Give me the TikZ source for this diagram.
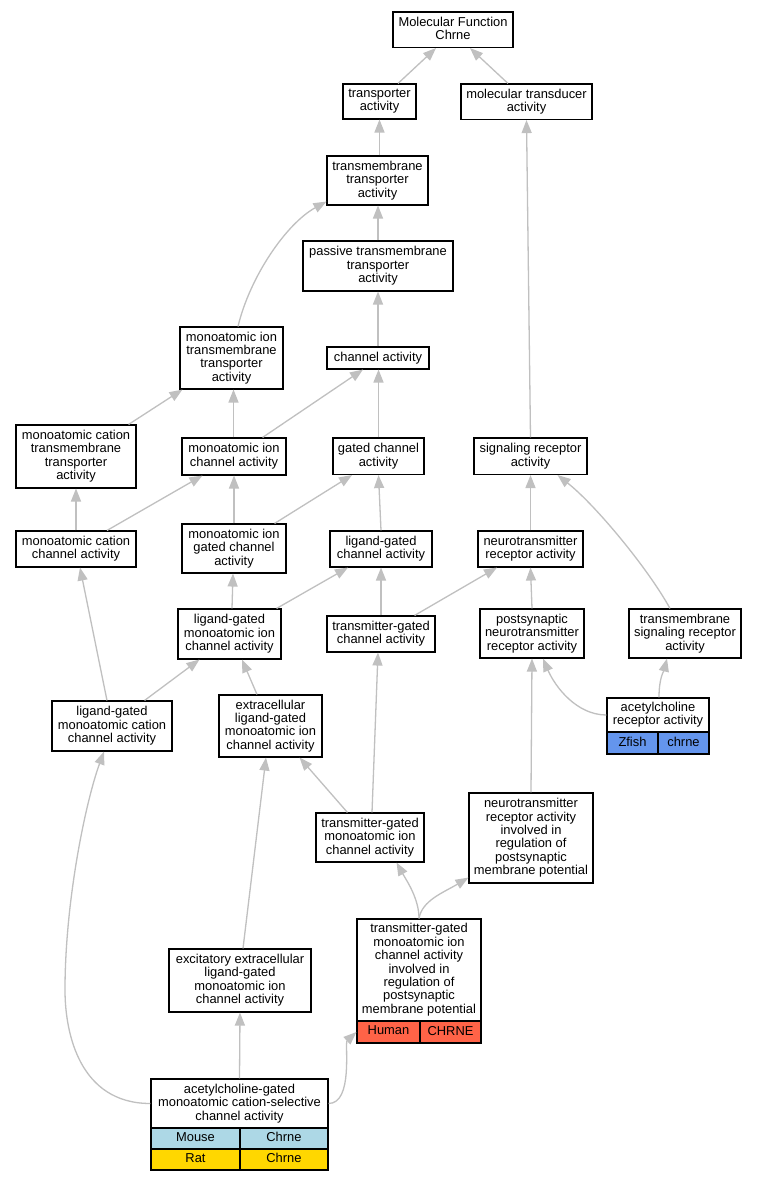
\documentclass[tikz,border=0pt]{standalone}
\usepackage{fontspec}
\setmainfont{Liberation Sans}
\usetikzlibrary{arrows.meta}
\definecolor{edgegray}{RGB}{192,192,192}
\definecolor{zfish}{RGB}{100,149,237}
\definecolor{human}{RGB}{255,99,71}
\definecolor{mouse}{RGB}{173,216,230}
\definecolor{rat}{RGB}{255,215,0}
\newcommand{\mystrut}{\rule[-3pt]{0pt}{10.2pt}}
\newcommand{\fs}{\fontsize{12.9}{13.4}\selectfont}
\begin{document}
\begin{tikzpicture}[x=1pt,y=-1pt,
  box/.style={draw=black, line width=1.1pt, fill=white, inner sep=0pt, align=center, font=\fs,
    execute at begin node=\mystrut, execute at end node=\mystrut},
  cell/.style={box, fill=#1},
  edge/.style={draw=edgegray, line width=1.3pt, -{Triangle[length=13pt,width=10pt]}}]
\fill[white] (0,0) rectangle (757,1181);
\useasboundingbox (0,0) rectangle (757,1181);

% nodes
\node[box, minimum width=120pt, minimum height=35.5pt] (mf) at (453,29.75) {Molecular Function\\Chrne};
\node[box, minimum width=73pt, minimum height=35pt] (ta) at (379.5,101.5) {transporter\\activity};
\node[box, minimum width=131pt, minimum height=35.5pt] (mta) at (526.5,101.75) {molecular transducer\\activity};
\node[box, minimum width=101pt, minimum height=49pt] (tta) at (377.5,180.5) {transmembrane\\transporter\\activity};
\node[box, minimum width=150pt, minimum height=50pt] (ptta) at (378,266) {passive transmembrane\\transporter\\activity};
\node[box, minimum width=102pt, minimum height=22pt] (ca) at (378,358) {channel activity};
\node[box, minimum width=103pt, minimum height=62pt] (mitt) at (231.5,358) {monoatomic ion\\transmembrane\\transporter\\activity};
\node[box, minimum width=120pt, minimum height=63pt] (mctt) at (76,456.5) {monoatomic cation\\transmembrane\\transporter\\activity};
\node[box, minimum width=104pt, minimum height=37pt] (mica) at (234,456.5) {monoatomic ion\\channel activity};
\node[box, minimum width=91pt, minimum height=36.5pt] (gca) at (378.5,456.25) {gated channel\\activity};
\node[box, minimum width=113pt, minimum height=36.5pt] (sra) at (530.5,456.25) {signaling receptor\\activity};
\node[box, minimum width=120pt, minimum height=36pt] (mcca) at (76,549) {monoatomic cation\\channel activity};
\node[box, minimum width=104pt, minimum height=49pt] (migca) at (234,548.5) {monoatomic ion\\gated channel\\activity};
\node[box, minimum width=102pt, minimum height=36pt] (lgca) at (381,549) {ligand-gated\\channel activity};
\node[box, minimum width=105pt, minimum height=36pt] (nra) at (530.5,549) {neurotransmitter\\receptor activity};
\node[box, minimum width=103pt, minimum height=50pt] (lgmic) at (229.5,634) {ligand-gated\\monoatomic ion\\channel activity};
\node[box, minimum width=108pt, minimum height=36pt] (tgca) at (381,634) {transmitter-gated\\channel activity};
\node[box, minimum width=104pt, minimum height=49pt] (pnra) at (532,633.5) {postsynaptic\\neurotransmitter\\receptor activity};
\node[box, minimum width=112pt, minimum height=49pt] (tsra) at (685,633.5) {transmembrane\\signaling receptor\\activity};
\node[box, minimum width=120pt, minimum height=50pt] (lgmcc) at (112,726) {ligand-gated\\monoatomic cation\\channel activity};
\node[box, minimum width=103pt, minimum height=62pt] (elg) at (270.5,726) {extracellular\\ligand-gated\\monoatomic ion\\channel activity};
\node[box, minimum width=102pt, minimum height=34pt] (ara) at (658,715) {acetylcholine\\receptor activity};
\node[cell=zfish, minimum width=51pt, minimum height=22pt] (zf) at (632.5,743) {Zfish};
\node[cell=zfish, minimum width=51pt, minimum height=22pt] (zfg) at (683.5,743) {chrne};
\node[box, minimum width=124pt, minimum height=90pt] (nrai) at (531,838) {neurotransmitter\\receptor activity\\involved in\\regulation of\\postsynaptic\\membrane potential};
\node[box, minimum width=108pt, minimum height=49pt] (tgmic) at (370,837.5) {transmitter-gated\\monoatomic ion\\channel activity};
\node[box, minimum width=124pt, minimum height=102pt] (tgmici) at (419,970) {transmitter-gated\\monoatomic ion\\channel activity\\involved in\\regulation of\\postsynaptic\\membrane potential};
\node[cell=human, minimum width=63pt, minimum height=22pt] (hu) at (388.5,1032) {Human};
\node[cell=human, minimum width=61pt, minimum height=22pt] (hug) at (450.5,1032) {CHRNE};
\node[box, minimum width=142pt, minimum height=63pt] (eelg) at (240,980.5) {excitatory extracellular\\ligand-gated\\monoatomic ion\\channel activity};
\node[box, minimum width=177pt, minimum height=49pt] (acgc) at (239.5,1103.5) {acetylcholine-gated\\monoatomic cation-selective\\channel activity};
\node[cell=mouse, minimum width=89pt, minimum height=21pt] (mo) at (195.5,1138.5) {Mouse};
\node[cell=mouse, minimum width=88pt, minimum height=21pt] (mog) at (284,1138.5) {Chrne};
\node[cell=rat, minimum width=89pt, minimum height=21pt] (ra) at (195.5,1159.5) {Rat};
\node[cell=rat, minimum width=88pt, minimum height=21pt] (rag) at (284,1159.5) {Chrne};

% edges
\draw[edge] ([xshift=18.5pt]ta.north) -- ([xshift=-17pt]mf.south);
\draw[edge] ([xshift=-18.5pt]mta.north) -- ([xshift=17pt]mf.south);
\draw[edge] ([xshift=2pt]tta.north) -- (ta.south);
\draw[edge] (ptta.north) -- ([xshift=0.5pt]tta.south);
\draw[edge] (ca.north) -- (ptta.south);
\draw[edge] ([xshift=6.5pt]mitt.north) .. controls +(12,-50) and +(-40,22) .. ([yshift=4pt]tta.south west);
\draw[edge] ([xshift=-8pt]mctt.north east) -- ([xshift=3pt]mitt.south west);
\draw[edge] ([xshift=-0.5pt]mica.north) -- ([xshift=2pt]mitt.south);
\draw[edge] ([xshift=-24pt]mica.north east) -- ([xshift=-15pt]ca.south);
\draw[edge] (gca.north) -- ([xshift=0.5pt]ca.south);
\draw[edge] (sra.north) -- (mta.south);
\draw[edge] ([xshift=31pt]mcca.north) -- ([xshift=21pt]mica.south west);
\draw[edge] (mcca.north) -- (mctt.south);
\draw[edge] (migca.north) -- (mica.south);
\draw[edge] ([xshift=-12pt]migca.north east) -- ([xshift=-26.5pt]gca.south);
\draw[edge] (lgca.north) -- (gca.south);
\draw[edge] (nra.north) -- (sra.south);
\draw[edge] ([xshift=2.5pt]lgmic.north) -- ([xshift=-1pt]migca.south);
\draw[edge] ([xshift=-5pt]lgmic.north east) -- ([xshift=-33pt]lgca.south);
\draw[edge] (tgca.north) -- (lgca.south);
\draw[edge] ([xshift=-21pt]tgca.north east) -- ([xshift=-33.5pt]nra.south);
\draw[edge] (pnra.north) -- (nra.south);
\draw[edge] ([xshift=-15pt]tsra.north) .. controls +(-22,-40) and +(38,30) .. ([xshift=-30pt]sra.south east);
\draw[edge] ([xshift=-5pt]lgmcc.north) -- ([xshift=4pt]mcca.south);
\draw[edge] ([xshift=-28pt]lgmcc.north east) -- ([xshift=22pt]lgmic.south west);
\draw[edge] ([xshift=-13.5pt]elg.north) -- ([xshift=12.5pt]lgmic.south);
\draw[edge] (ara.west) .. controls +(-30,0) and +(12,28) .. ([xshift=11pt]pnra.south);
\draw[edge] ([xshift=1pt]ara.north) .. controls +(0,-20) and +(-3,12) .. ([xshift=-18pt]tsra.south);
\draw[edge] (nrai.north) -- (pnra.south);
\draw[edge] ([xshift=32pt]tgmic.north west) -- ([xshift=-23pt]elg.south east);
\draw[edge] ([xshift=2pt]tgmic.north) -- ([xshift=-3pt]tgca.south);
\draw[edge] (tgmici.north) .. controls +(0,-20) and +(10,18) .. ([xshift=-28pt]tgmic.south east);
\draw[edge] (tgmici.north) .. controls +(3,-18) and +(-25,15) .. ([yshift=6pt]nrai.south west);
\draw[edge] ([xshift=3pt]eelg.north) -- ([xshift=-4.5pt]elg.south);
\draw[edge] (acgc.north) -- (eelg.south);
\draw[edge] (acgc.east) .. controls +(25,0) and +(-12,11) .. (hu.west);
\draw[edge] (acgc.west) .. controls +(-71,0) and +(0,43) .. (65,990) .. controls +(0,-90) and +(-18,49) .. ([xshift=-8pt]lgmcc.south);
\end{tikzpicture}
\end{document}
